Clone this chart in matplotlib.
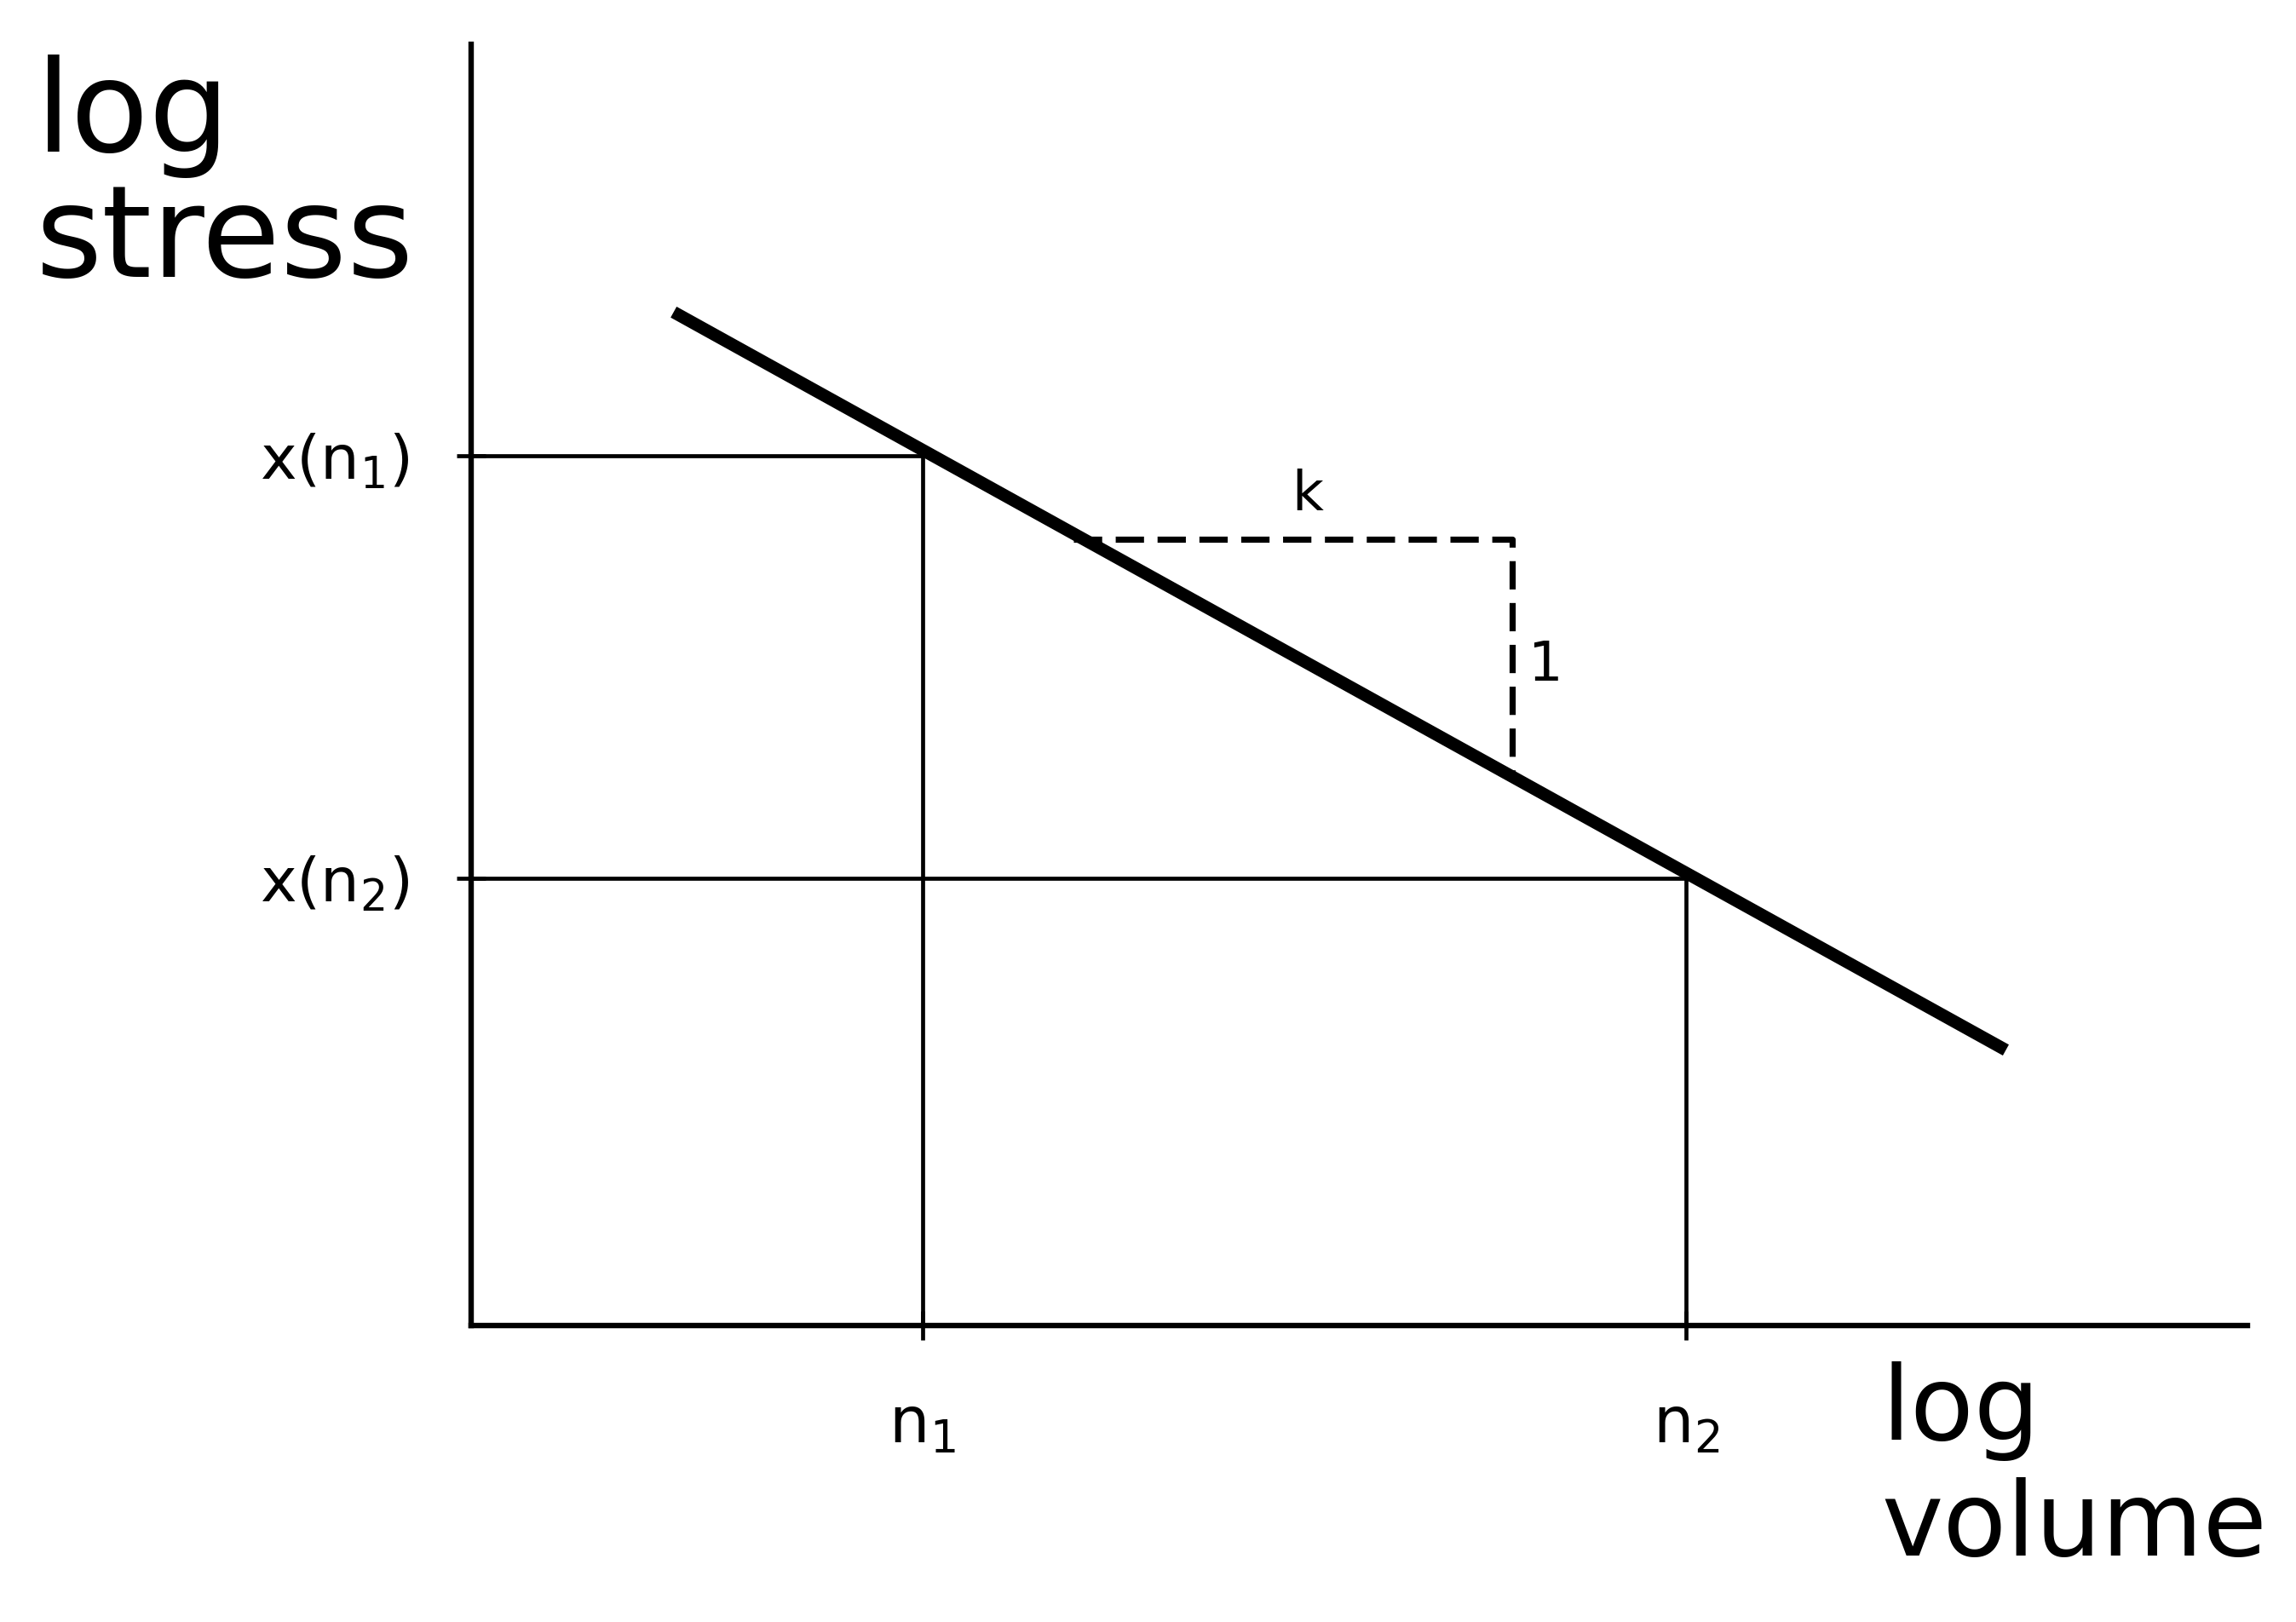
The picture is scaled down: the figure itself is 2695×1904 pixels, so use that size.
#Log stress vs log volume: size effect sketch with slope triangle
import matplotlib.pyplot as plt

plt.rcParams['font.family'] = ['DejaVu Sans']
plt.rcParams['mathtext.default'] = 'regular'

# abstract axis units, 0..10 on both axes
n_vals = [2.54, 6.84]          # n1, n2 on log volume
x_vals = [6.79, 3.49]          # x(n1), x(n2) on log stress
n_labels = [r'$\mathregular{n_1}$', r'$\mathregular{n_2}$']
x_labels = [r'$\mathregular{x(n_1)}$', r'$\mathregular{x(n_2)}$']
line_x = [1.14, 8.64]          # thick fitted line
line_y = [7.91, 2.15]
tri_x = [3.39, 5.86, 5.86]     # dashed slope triangle
tri_y = [6.14, 6.14, 4.30]

fig = plt.figure(figsize=(26.95, 19.04), dpi=100)
ax = fig.add_axes([553/2695, 348/1904, 2085/2695, 1504/1904])
ax.set_xlim(0, 10)
ax.set_ylim(0, 10)

for s in ['top', 'right']:
    ax.spines[s].set_visible(False)
for s in ['left', 'bottom']:
    ax.spines[s].set_linewidth(4.6)

# guide lines
for n, xv in zip(n_vals, x_vals):
    ax.plot([0, n], [xv, xv], color='black', lw=3.4, solid_capstyle='butt')
    ax.plot([n, n], [0, xv], color='black', lw=3.4, solid_capstyle='butt')

ax.plot(line_x, line_y, color='black', lw=10.5, solid_capstyle='butt')
ax.plot(tri_x, tri_y, color='black', lw=5.2, dashes=(4.6, 2.2))

ax.text(4.71, 6.48, 'k', fontsize=46, ha='center', va='center')
ax.text(6.05, 5.15, '1', fontsize=46, ha='center', va='center')

ax.set_xticks(n_vals)
ax.set_xticklabels(n_labels, fontsize=54)
ax.set_yticks(x_vals)
ax.set_yticklabels(x_labels, fontsize=52)
ax.tick_params(axis='x', direction='inout', length=24, width=3.4, pad=46)
ax.tick_params(axis='y', direction='inout', length=24, width=3.4, pad=40)

ax.text(-0.245, 0.992, 'log\nstress', transform=ax.transAxes, fontsize=108,
        ha='left', va='top', linespacing=1.02)
ax.text(0.794, -0.028, 'log\nvolume', transform=ax.transAxes, fontsize=88,
        ha='left', va='top', linespacing=1.2)

plt.savefig('out.png', dpi=100)
